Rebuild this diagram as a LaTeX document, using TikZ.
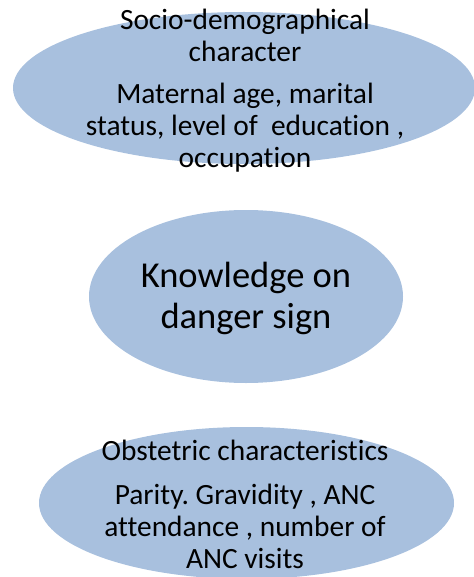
\documentclass[tikz,border=0pt]{standalone}
\usepackage{fontspec}
\setmainfont[Ligatures={NoCommon,NoContextual}]{Carlito}
\usetikzlibrary{shapes.geometric}
\definecolor{blobblue}{RGB}{168,192,222}
\frenchspacing
\tikzset{
  blob/.style={ellipse, fill=blobblue, draw=none, inner sep=0pt},
  txt/.style={align=center, inner sep=0pt, font=\fontsize{29.4}{32}\selectfont},
  bigtxt/.style={align=center, inner sep=0pt, font=\fontsize{36.5}{41}\selectfont}
}
\begin{document}
\begin{tikzpicture}[x=1pt,y=1pt]
\useasboundingbox (0,0) rectangle (473,-577);
\node[blob, minimum width=462pt, minimum height=152pt] (e1) at (244,-88) {};
\node[blob, minimum width=314pt, minimum height=173pt] (e2) at (246,-296.5) {};
\node[blob, minimum width=415pt, minimum height=152pt] (e3) at (246.5,-503) {};
\node[txt] (t1a) at (245,-35) {Socio-demographical\\character};
\node[txt] (t1b) at (245,-128) {Maternal age, marital\\status, level of\ \ education ,\\occupation};
\node[bigtxt] (t2) at (246,-298) {Knowledge on\\danger sign};
\node[txt] (t3a) at (245,-450) {Obstetric characteristics};
\node[txt] (t3b) at (245,-526) {Parity. Gravidity , ANC\\attendance , number of\\ANC visits};
\end{tikzpicture}
\end{document}
